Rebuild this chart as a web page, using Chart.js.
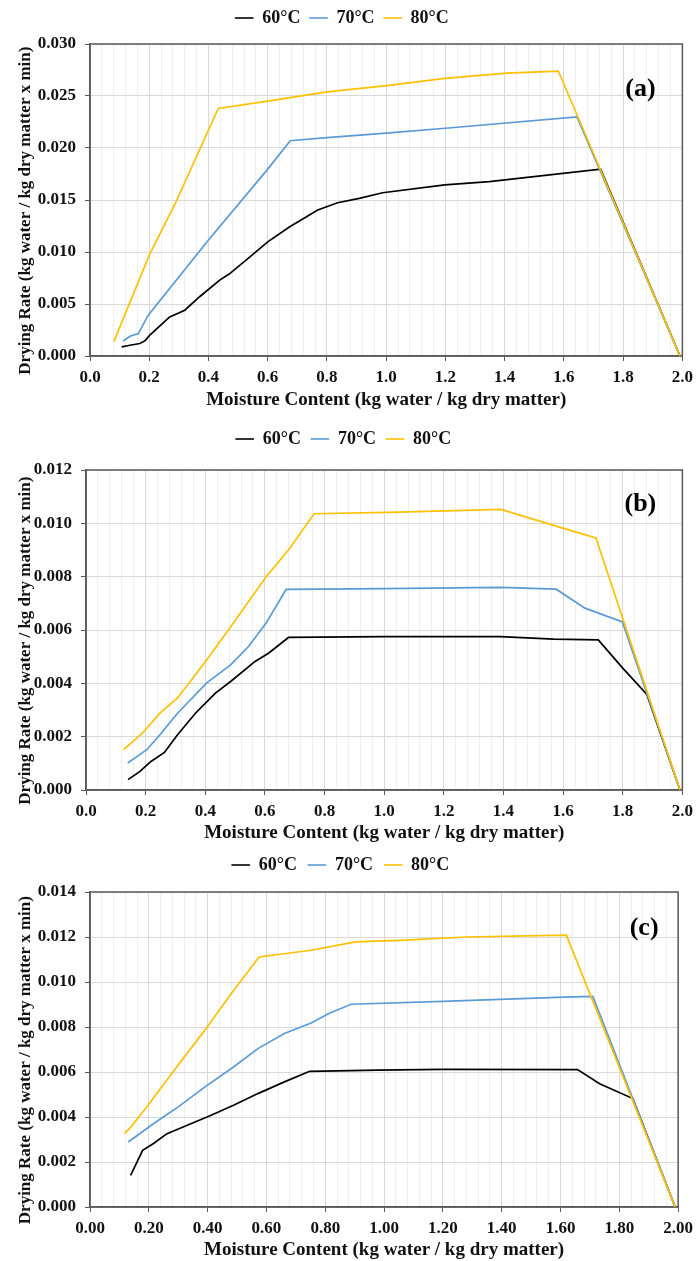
<!DOCTYPE html>
<html>
<head>
<meta charset="utf-8">
<script src="https://cdn.jsdelivr.net/npm/chart.js@4.4.1/dist/chart.umd.min.js"></script>
<style>
    body { margin: 0; background: #fff; }
    .box { position: absolute; left: 0; width: 699px; }
</style>
</head>
<body>
<div class="box" style="top:0;height:420px"><canvas id="chartA"></canvas></div>
<div class="box" style="top:420px;height:425px"><canvas id="chartB"></canvas></div>
<div class="box" style="top:845px;height:416px"><canvas id="chartC"></canvas></div>
<script>
var seriesNames = ['60°C', '70°C', '80°C'];
var seriesColors = ['#000000', '#5B9BD5', '#FFC000'];

// (a)
var a60x = [0.107, 0.135, 0.168, 0.185, 0.202, 0.269, 0.32, 0.37, 0.438, 0.471, 0.539, 0.600, 0.673, 0.769, 0.836, 0.909, 0.988, 1.198, 1.348, 1.724, 1.992];
var a60y = [0.00087, 0.00103, 0.0012, 0.00145, 0.0020, 0.00376, 0.0044, 0.0057, 0.0073, 0.0079, 0.0095, 0.01098, 0.0124, 0.01404, 0.01474, 0.01516, 0.0157, 0.01645, 0.01677, 0.01796, 0];
var a70x = [0.112, 0.135, 0.163, 0.196, 0.40, 0.598, 0.676, 0.80, 1.0, 1.2, 1.644, 1.992];
var a70y = [0.00144, 0.0019, 0.00216, 0.0039, 0.01115, 0.0179, 0.0207, 0.0210, 0.02143, 0.0219, 0.0230, 0];
var a80x = [0.081, 0.2, 0.29, 0.433, 0.60, 0.80, 1.003, 1.198, 1.408, 1.581, 1.992];
var a80y = [0.0014, 0.0097, 0.0148, 0.0238, 0.0245, 0.0254, 0.0260, 0.0267, 0.0272, 0.0274, 0];

// (b)
var b60x = [0.141, 0.181, 0.218, 0.263, 0.307, 0.367, 0.434, 0.485, 0.567, 0.612, 0.679, 1.0, 1.39, 1.569, 1.718, 1.80, 1.881, 1.992];
var b60y = [0.00039, 0.0007, 0.00107, 0.00141, 0.00207, 0.00288, 0.00363, 0.00407, 0.00482, 0.00513, 0.00572, 0.00575, 0.00575, 0.00566, 0.00563, 0.00457, 0.00358, 0];
var b70x = [0.140, 0.204, 0.248, 0.307, 0.404, 0.485, 0.545, 0.604, 0.671, 1.0, 1.39, 1.577, 1.673, 1.799, 1.992];
var b70y = [0.00101, 0.00151, 0.00207, 0.00288, 0.00401, 0.00469, 0.00538, 0.00626, 0.00752, 0.00755, 0.0076, 0.00753, 0.00682, 0.0063, 0];
var b80x = [0.126, 0.189, 0.248, 0.307, 0.397, 0.486, 0.604, 0.679, 0.765, 1.05, 1.391, 1.599, 1.71, 1.992];
var b80y = [0.00151, 0.00213, 0.00288, 0.00345, 0.00476, 0.00613, 0.0080, 0.0090, 0.01036, 0.01042, 0.01052, 0.00982, 0.00945, 0];

// (c)
var c60x = [0.138, 0.179, 0.216, 0.262, 0.345, 0.412, 0.488, 0.571, 0.661, 0.747, 0.978, 1.2, 1.658, 1.733, 1.846, 1.99];
var c60y = [0.00141, 0.00252, 0.00282, 0.00326, 0.00371, 0.00408, 0.00452, 0.00504, 0.00556, 0.00603, 0.00608, 0.00612, 0.00611, 0.00548, 0.00482, 0];
var c70x = [0.13, 0.224, 0.299, 0.39, 0.488, 0.571, 0.661, 0.752, 0.812, 0.888, 1.2, 1.612, 1.71, 1.99];
var c70y = [0.00289, 0.00378, 0.00444, 0.00533, 0.00622, 0.00704, 0.00771, 0.00818, 0.0086, 0.00901, 0.00914, 0.00933, 0.00936, 0];
var c80x = [0.118, 0.141, 0.193, 0.269, 0.39, 0.48, 0.575, 0.752, 0.903, 1.054, 1.28, 1.62, 1.99];
var c80y = [0.00326, 0.00359, 0.00444, 0.00578, 0.00785, 0.00948, 0.01111, 0.01141, 0.01178, 0.01185, 0.0120, 0.01208, 0];

var xTitle = 'Moisture Content (kg water / kg dry matter)';
var yTitle = 'Drying Rate (kg water / kg dry matter x min)';

var FONT = "'Liberation Serif', 'Times New Roman', serif";

function toPoints(xs, ys) {
    return xs.map(function(x, i) { return { x: x, y: ys[i] }; });
}

function isMajor(v) {
    return Math.abs(v * 5 - Math.round(v * 5)) < 1e-6;
}

// box round the plot + panel letter
var framePlugin = {
    id: 'frame',
    beforeDatasetsDraw: function(chart, args, opts) {
        var a = chart.chartArea, ctx = chart.ctx;
        ctx.save();
        ctx.strokeStyle = '#595959';
        ctx.lineWidth = 1.5;
        ctx.strokeRect(a.left, a.top, a.right - a.left, a.bottom - a.top);
        ctx.restore();
    },
    afterDatasetsDraw: function(chart, args, opts) {
        var a = chart.chartArea, ctx = chart.ctx;
        ctx.save();
        ctx.font = 'bold 26px ' + FONT;
        ctx.fillStyle = '#000';
        ctx.textAlign = 'center';
        ctx.textBaseline = 'middle';
        ctx.fillText(opts.tag, a.right - opts.dx, a.top + opts.dy);
        ctx.restore();
    }
};

var legendHeight = {
    id: 'legendHeight',
    beforeInit: function(chart) {
        var fit = chart.legend.fit;
        chart.legend.fit = function() {
            fit.bind(chart.legend)();
            this.height = chart.options.plugins.legendHeight.h;
        };
    }
};

function buildChart(id, xsList, ysList, cfg, g) {
    var ctx = document.getElementById(id).getContext('2d');
    var datasets = seriesNames.map(function(name, i) {
        return {
            label: name,
            data: toPoints(xsList[i], ysList[i]),
            borderColor: seriesColors[i],
            backgroundColor: seriesColors[i],
            borderWidth: 1.7,
            pointRadius: 0,
            tension: 0,
            order: 2 - i
        };
    });

    return new Chart(ctx, {
        type: 'line',
        data: { datasets: datasets },
        plugins: [framePlugin, legendHeight],
        options: {
            responsive: true,
            maintainAspectRatio: false,
            animation: false,
            layout: { padding: { left: 0, right: g.padRight, top: 0, bottom: 0 } },
            plugins: {
                tooltip: { enabled: false },
                legendHeight: { h: g.legendH },
                frame: { tag: cfg.tag, dx: g.tagDx, dy: g.tagDy },
                legend: {
                    display: true,
                    position: 'top',
                    labels: {
                        boxWidth: 18,
                        boxHeight: 1,
                        padding: g.legendPad,
                        color: '#111',
                        font: { family: FONT, size: 18, weight: 'bold' },
                        sort: function(a, b) { return a.datasetIndex - b.datasetIndex; },
                        generateLabels: function(chart) {
                            var items = Chart.defaults.plugins.legend.labels.generateLabels(chart);
                            items.forEach(function(it) { it.lineWidth = 0.6; });
                            return items;
                        }
                    }
                }
            },
            scales: {
                x: {
                    type: 'linear',
                    min: 0,
                    max: 2,
                    afterFit: function(scale) { scale.height = g.xHeight; },
                    border: { color: '#595959', width: 1.5 },
                    grid: {
                        drawTicks: true,
                        tickLength: 5,
                        color: function(c) { return isMajor(c.tick.value) ? '#d9d9d9' : '#efefef'; },
                        tickColor: function(c) { return isMajor(c.tick.value) ? '#595959' : 'rgba(0,0,0,0)'; }
                    },
                    ticks: {
                        stepSize: 0.04,
                        maxTicksLimit: 100,
                        autoSkip: false,
                        maxRotation: 0,
                        minRotation: 0,
                        padding: 6,
                        color: '#111',
                        font: { family: FONT, size: 17, weight: 'bold' },
                        callback: function(v) { return isMajor(v) ? v.toFixed(cfg.xDec) : ''; }
                    },
                    title: {
                        display: true,
                        text: xTitle,
                        color: '#111',
                        padding: { top: 0, bottom: g.xTitlePad },
                        font: { family: FONT, size: 19, weight: 'bold' }
                    }
                },
                y: {
                    type: 'linear',
                    min: 0,
                    max: cfg.yMax,
                    afterFit: function(scale) { scale.width = g.yWidth; },
                    border: { color: '#595959', width: 1.5 },
                    grid: {
                        drawTicks: true,
                        tickLength: 5,
                        color: '#d9d9d9',
                        tickColor: '#595959'
                    },
                    ticks: {
                        stepSize: cfg.yStep,
                        padding: 9,
                        color: '#111',
                        font: { family: FONT, size: 17, weight: 'bold' },
                        callback: function(v) { return v.toFixed(3); }
                    },
                    title: {
                        display: true,
                        text: yTitle + '\u00a0\u00a0\u00a0\u00a0\u00a0',
                        color: '#111',
                        padding: { top: 15, bottom: 0 },
                        font: { family: FONT, size: 17, weight: 'bold' }
                    }
                }
            }
        }
    });
}

document.addEventListener('DOMContentLoaded', function() {
    buildChart('chartA', [a60x, a70x, a80x], [a60y, a70y, a80y],
        { tag: '(a)', yMax: 0.030, yStep: 0.005, xDec: 1 },
        { legendH: 44, legendPad: 9, xHeight: 64, yWidth: 90, padRight: 15, xTitlePad: 8.6, tagDx: 42, tagDy: 45 });
    buildChart('chartB', [b60x, b70x, b80x], [b60y, b70y, b80y],
        { tag: '(b)', yMax: 0.012, yStep: 0.002, xDec: 1 },
        { legendH: 50, legendPad: 10, xHeight: 55, yWidth: 86, padRight: 12, xTitlePad: 0.6, tagDx: 42, tagDy: 34 });
    buildChart('chartC', [c60x, c70x, c80x], [c60y, c70y, c80y],
        { tag: '(c)', yMax: 0.014, yStep: 0.002, xDec: 2 },
        { legendH: 47, legendPad: 11, xHeight: 54, yWidth: 90, padRight: 18, xTitlePad: 0, tagDx: 34, tagDy: 36 });
});
</script>
</body>
</html>
